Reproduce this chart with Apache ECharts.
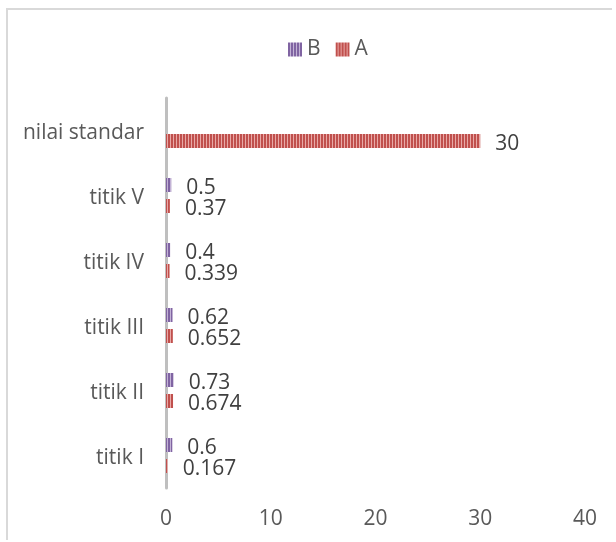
<!DOCTYPE html>
<html><head><meta charset="utf-8">
<script src="https://cdn.jsdelivr.net/npm/echarts@6/dist/echarts.min.js"></script>
<style>
html,body{margin:0;padding:0;background:#fff;overflow:hidden;width:616px;height:542px;}
#frame{position:absolute;left:6px;top:8px;width:604px;height:530px;border-top:2px solid #d9d9d9;border-left:2px solid #d9d9d9;}
#c{position:absolute;left:0;top:0;width:616px;height:542px;}
</style></head>
<body><div id="frame"></div><div id="c"></div>
<script>
var categories = ['titik I', 'titik II', 'titik III', 'titik IV', 'titik V', 'nilai standar'];
var seriesB = [0.6, 0.73, 0.62, 0.4, 0.5, null];
var seriesA = [0.167, 0.674, 0.652, 0.339, 0.37, 30];
var xTicks = [0, 10, 20, 30, 40];

function stripes(dark, light) {
  var c = document.createElement('canvas');
  c.width = 3; c.height = 4;
  var g = c.getContext('2d');
  g.fillStyle = light; g.fillRect(0, 0, 3, 4);
  g.fillStyle = dark; g.fillRect(0, 0, 2, 4);
  return { image: c, repeat: 'repeat' };
}
var font = '"Open Sans", sans-serif';
var chart = echarts.init(document.getElementById('c'), null, { renderer: 'canvas' });
chart.setOption({
  backgroundColor: 'transparent',
  animation: false,
  legend: {
    top: 34, left: 283, itemWidth: 14, itemHeight: 14, itemGap: 15, icon: 'rect',
    textStyle: { fontFamily: font, fontSize: 21, color: '#595959' },
    data: ['B', 'A']
  },
  grid: { left: 166, right: 31, top: 98, bottom: 54, containLabel: false },
  xAxis: {
    type: 'value', min: xTicks[0], max: xTicks[xTicks.length - 1], interval: 10,
    axisLine: { show: false }, axisTick: { show: false }, splitLine: { show: false },
    axisLabel: { margin: 21, fontFamily: font, fontSize: 21, color: '#595959' }
  },
  yAxis: {
    type: 'category', data: categories,
    axisLine: { show: true, lineStyle: { color: '#bfbfbf', width: 3 } },
    axisTick: { show: false },
    axisLabel: { margin: 22, verticalAlign: 'top', lineHeight: 6, fontFamily: font, fontSize: 21, color: '#595959' }
  },
  series: [
    { name: 'B', type: 'bar', data: seriesB, barWidth: 14, barGap: '50%',
      itemStyle: { color: stripes('#8064a2', '#c3b3d6') },
      label: { show: true, position: 'right', distance: 15, offset: [0, 3], fontFamily: font, fontSize: 21, color: '#404040' } },
    { name: 'A', type: 'bar', data: seriesA, barWidth: 14, barGap: '50%',
      itemStyle: { color: stripes('#c0504d', '#e8a9a7') },
      label: { show: true, position: 'right', distance: 15, offset: [0, 3], fontFamily: font, fontSize: 21, color: '#404040' } }
  ]
});
</script></body></html>
